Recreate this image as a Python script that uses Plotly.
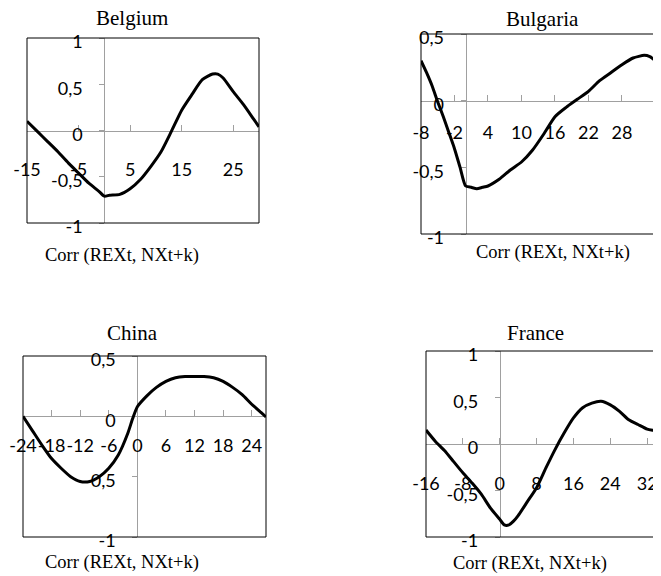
import plotly.graph_objects as go

# cross-correlations Corr(REX_t, NX_t+k)
belgium_lag = [-15, -13, -11, -9, -7, -5, -3, -1, 0, 1, 3, 5, 7, 9, 11, 13, 15, 17, 19, 21, 22, 23, 25, 27, 29, 30]
belgium_corr = [0.10, -0.01, -0.12, -0.23, -0.35, -0.46, -0.57, -0.66, -0.71, -0.70, -0.69, -0.63, -0.53, -0.39,
                -0.23, -0.01, 0.22, 0.39, 0.55, 0.61, 0.61, 0.57, 0.42, 0.28, 0.12, 0.04]

bulgaria_lag = [-8, -7, -6, -5, -4, -3, -2, -1, 0, 1, 2, 3, 4, 6, 8, 10, 12, 14, 16, 18, 20, 22, 24, 26, 28, 30, 32, 33, 34, 35]
bulgaria_corr = [0.30, 0.21, 0.11, -0.01, -0.12, -0.24, -0.36, -0.50, -0.64, -0.65, -0.66, -0.65, -0.64, -0.59,
                 -0.52, -0.46, -0.37, -0.25, -0.12, -0.05, 0.01, 0.07, 0.15, 0.21, 0.27, 0.32, 0.34, 0.33, 0.30, 0.26]

china_lag = [-24, -22, -20, -18, -16, -14, -12, -10, -8, -6, -4, -2, -1, 0, 2, 4, 6, 8, 10, 12, 14, 16, 18, 20, 22, 24, 26, 27]
china_corr = [0.0, -0.12, -0.24, -0.35, -0.43, -0.50, -0.54, -0.54, -0.50, -0.43, -0.32, -0.14, -0.02, 0.08,
              0.17, 0.24, 0.29, 0.32, 0.33, 0.33, 0.33, 0.32, 0.29, 0.24, 0.18, 0.10, 0.03, -0.005]

france_lag = [-16, -14, -12, -10, -8, -6, -4, -2, 0, 1, 2, 3, 4, 6, 8, 10, 12, 14, 16, 18, 20, 22, 24, 26, 28, 30, 32, 34, 35]
france_corr = [0.15, 0.03, -0.07, -0.19, -0.31, -0.42, -0.54, -0.69, -0.81, -0.87, -0.87, -0.83, -0.77, -0.62,
               -0.47, -0.26, -0.06, 0.12, 0.28, 0.39, 0.44, 0.46, 0.42, 0.35, 0.26, 0.21, 0.16, 0.14, 0.12]

# tick labels (Excel style, decimal comma)
belgium_xticks = [-15, -5, 5, 15, 25]
bulgaria_xticks = [-8, -2, 4, 10, 16, 22, 28, 34]
china_xticks = [-24, -18, -12, -6, 0, 6, 12, 18, 24]
france_xticks = [-16, -8, 0, 8, 16, 24, 32]
yticks_full = [-1, -0.5, 0, 0.5, 1]
ylabels_full = ["-1", "-0,5", "0", "0,5", "1"]
yticks_half = [-1, -0.5, 0, 0.5]
ylabels_half = ["-1", "-0,5", "0", "0,5"]

# the page body has an 8px margin, so the figure is 8px smaller and everything below
# is given in page pixels, then shifted
PAGE_W, PAGE_H = 661, 576
OFF = 8
W, H = PAGE_W - OFF, PAGE_H - OFF


def fx(x):
    return (x - OFF) / W


def fy(y):
    return 1 - (y - OFF) / H


AXIS_GREY = "#a0a0a0"
TICK_FONT = dict(family="Lato, 'Open Sans', sans-serif", size=18, color="black")
SERIF = "'Liberation Serif', 'Times New Roman', serif"

panels = [
    dict(title="Belgium", lag=belgium_lag, corr=belgium_corr, xrange=[-15, 30], yrange=[-1, 1],
         xticks=belgium_xticks, yticks=yticks_full, ylabels=ylabels_full,
         box=(27, 259, 38, 223), title_xy=(132, 18), note_xy=(122, 255), standoff=23, open_right=False),
    dict(title="Bulgaria", lag=bulgaria_lag, corr=bulgaria_corr, xrange=[-8, 35], yrange=[-1, 0.5],
         xticks=bulgaria_xticks, yticks=yticks_half, ylabels=ylabels_half,
         box=(421, 661, 34, 234), title_xy=(542, 19), note_xy=(553, 253), standoff=16, open_right=True),
    dict(title="China", lag=china_lag, corr=china_corr, xrange=[-24, 27], yrange=[-1, 0.5],
         xticks=china_xticks, yticks=yticks_half, ylabels=ylabels_half,
         box=(23, 266, 356, 537), title_xy=(132, 333), note_xy=(122, 562), standoff=13, open_right=False),
    dict(title="France", lag=france_lag, corr=france_corr, xrange=[-16, 35], yrange=[-1, 1],
         xticks=france_xticks, yticks=yticks_full, ylabels=ylabels_full,
         box=(426, 661, 351, 537), title_xy=(535, 333), note_xy=(530, 563), standoff=23, open_right=True),
]

fig = go.Figure()
layout = {}
shapes = []
annotations = []

for i, p in enumerate(panels):
    n = "" if i == 0 else str(i + 1)
    left, right, top, bottom = p["box"]
    x0, x1 = p["xrange"]
    y0, y1 = p["yrange"]
    # page positions of the zero lines
    zero_y = bottom - (0 - y0) / (y1 - y0) * (bottom - top)
    zero_x = left + (0 - x0) / (x1 - x0) * (right - left)

    fig.add_trace(go.Scatter(
        x=p["lag"], y=p["corr"], mode="lines",
        line=dict(color="black", width=3, shape="spline", smoothing=0.6),
        xaxis="x" + n, yaxis="y" + n, showlegend=False, hoverinfo="skip",
    ))

    layout["xaxis" + n] = dict(
        domain=[fx(left), min(fx(right), 1)], range=[x0, x1], anchor="free", position=fy(zero_y),
        showgrid=False, zeroline=False, showline=True, linecolor=AXIS_GREY, linewidth=1,
        ticks="inside", ticklen=6, tickcolor=AXIS_GREY, tickwidth=1, tickangle=0,
        tickvals=p["xticks"], ticktext=[str(v) for v in p["xticks"]], automargin=False,
        tickfont=TICK_FONT, ticklabelstandoff=p["standoff"], layer="below traces",
    )
    layout["yaxis" + n] = dict(
        domain=[fy(bottom), fy(top)], range=[y0, y1], anchor="free", position=fx(zero_x),
        showgrid=False, zeroline=False, showline=True, linecolor=AXIS_GREY, linewidth=1,
        ticks="outside", ticklen=5, tickcolor=AXIS_GREY, tickwidth=1, automargin=False,
        tickvals=p["yticks"], ticktext=p["ylabels"],
        tickfont=TICK_FONT, ticklabelstandoff=13, ticklabelshift=4, layer="below traces",
    )

    # black frame around the plot area
    xr, yr = "x" + n + " domain", "y" + n + " domain"
    sides = [(0, 0, 0, 1), (0, 1, 1, 1), (0, 0, 1, 0)]
    if not p["open_right"]:
        sides.append((1, 0, 1, 1))
    for sx0, sy0, sx1, sy1 in sides:
        shapes.append(dict(type="line", xref=xr, yref=yr, x0=sx0, y0=sy0, x1=sx1, y1=sy1,
                           line=dict(color="black", width=1)))

    tx, ty = p["title_xy"]
    annotations.append(dict(text=p["title"], x=fx(tx), y=fy(ty), xref="paper", yref="paper",
                            xanchor="center", yanchor="middle", showarrow=False, borderpad=0,
                            font=dict(family=SERIF, size=21, color="black")))
    ax, ay = p["note_xy"]
    annotations.append(dict(text="Corr (REXt, NXt+k)", x=fx(ax), y=fy(ay), xref="paper", yref="paper",
                            xanchor="center", yanchor="middle", showarrow=False,
                            font=dict(family=SERIF, size=18.5, color="black")))

fig.update_layout(
    width=W, height=H, margin=dict(l=0, r=0, t=0, b=0, pad=0), autosize=False,
    paper_bgcolor="white", plot_bgcolor="white",
    shapes=shapes, annotations=annotations, **layout,
)

fig.write_html("out.html")
